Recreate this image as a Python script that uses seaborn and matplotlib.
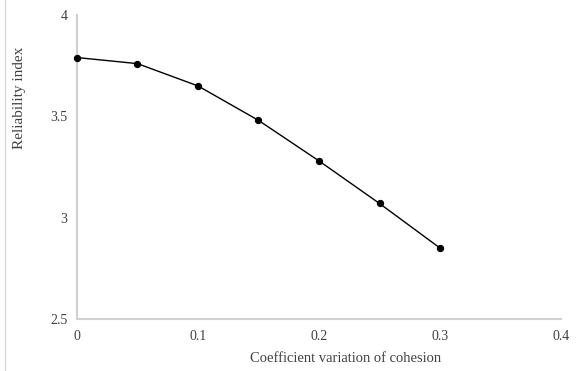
import seaborn as sns
import pandas as pd
import matplotlib.pyplot as plt
from matplotlib.lines import Line2D

# data
cov_cohesion = [0.0, 0.05, 0.10, 0.15, 0.20, 0.25, 0.30]
reliability = [3.79, 3.76, 3.65, 3.48, 3.28, 3.07, 2.85]
x_ticks = [0, 0.1, 0.2, 0.3, 0.4]
y_ticks = [2.5, 3, 3.5, 4]

sns.set_style('white')
plt.rcParams['font.family'] = ['Liberation Serif', 'DejaVu Serif']

df = pd.DataFrame({'cov': cov_cohesion, 'beta': reliability})

fig = plt.figure(figsize=(5.81, 3.71), dpi=100)
ax = fig.add_axes([0.1325, 0.1402, 0.8331, 0.8194])

sns.lineplot(data=df, x='cov', y='beta', ax=ax, color='black', linewidth=1.0,
             marker='o', markersize=4.5, markeredgecolor='black', clip_on=False,
             zorder=5)

ax.set_xlim(0, 0.4)
ax.set_ylim(2.5, 4)
ax.set_xticks(x_ticks)
ax.set_xticklabels(['0', '0.1', '0.2', '0.3', '0.4'])
ax.set_yticks(y_ticks)
ax.set_yticklabels(['2.5', '3', '3.5', '4'])

for s in ['top', 'right']:
    ax.spines[s].set_visible(False)
for s in ['left', 'bottom']:
    ax.spines[s].set_color('#d0d0d0')
    ax.spines[s].set_linewidth(1.5)
    ax.spines[s].set_zorder(1)

ax.tick_params(axis='both', direction='inout', length=4, width=1, color='#d0d0d0',
               labelsize=10, labelcolor='#404040', pad=5)
ax.tick_params(axis='x', pad=6)

ax.set_xlabel('')
ax.set_ylabel('')
fig.text(0.594, 0.035, 'Coefficient variation of cohesion', ha='center', va='center',
         fontsize=10.5, color='#404040')
fig.text(0.034, 0.736, 'Reliability index', ha='center', va='center', rotation=90,
         fontsize=11, color='#404040')

# thin frame line at the left edge of the picture
fig.add_artist(Line2D([0.009, 0.009], [0, 1], transform=fig.transFigure,
                      color='#d8d8d8', linewidth=1))

fig.savefig('out.png', dpi=100)
